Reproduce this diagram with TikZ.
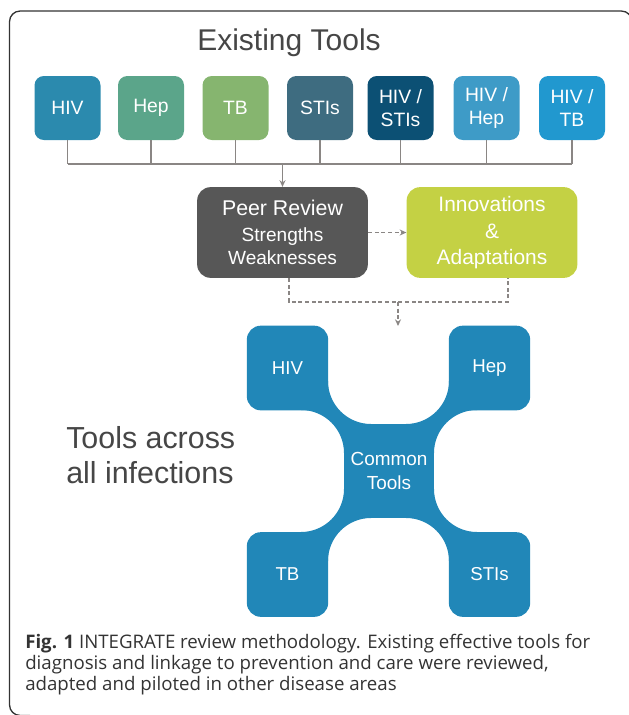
\documentclass[tikz,border=0pt]{standalone}
\usepackage{fontspec}
\setmainfont{Liberation Sans}
\newfontfamily\capfont{Open Sans}
\usetikzlibrary{arrows.meta}
\definecolor{cHIV}{HTML}{2B8AAE}
\definecolor{cHep}{HTML}{5BA58A}
\definecolor{cTB}{HTML}{86B56F}
\definecolor{cSTI}{HTML}{3E6C80}
\definecolor{cHS}{HTML}{0C5074}
\definecolor{cHH}{HTML}{3E9BC7}
\definecolor{cHT}{HTML}{2198CF}
\definecolor{cPeer}{HTML}{575757}
\definecolor{cInno}{HTML}{C4D144}
\definecolor{cCross}{HTML}{2187B8}
\definecolor{cText}{HTML}{464646}
\definecolor{cLine}{HTML}{8A8684}
\definecolor{cCap}{HTML}{333333}
\tikzset{
  topbox/.style={rounded corners=7pt, minimum width=49.5pt, minimum height=48pt, text=white, align=center, font=\fontsize{14.5}{17}\selectfont, inner sep=0pt},
  bigbox/.style={rounded corners=10pt, minimum width=128pt, minimum height=68pt, text=white, align=center, inner sep=0pt},
  armbox/.style={fill=cCross, rounded corners=10.5pt, minimum width=61pt, minimum height=63.5pt, text=white, font=\fontsize{14}{16}\selectfont, inner sep=0pt},
  conn/.style={draw=cLine, line width=1.1pt},
  dconn/.style={draw=cLine, line width=1.1pt, dash pattern=on 3pt off 2pt},
  tip/.style={-{Stealth[length=5pt,width=4.5pt]}}
}
\begin{document}
\begin{tikzpicture}[x=0.75pt,y=-0.75pt]
\useasboundingbox (0,0) rectangle (629,715);
% frame
\draw[line width=1pt, black!80, rounded corners=8pt] (632,40) -- (632,11) -- (9.5,11) -- (9.5,715.5) -- (30,715.5);
% title
\node[text=cText, font=\fontsize{22.5}{24}\selectfont] (title) at (289,43) {Existing Tools};
% top boxes
\node[topbox, fill=cHIV] (b1) at (67.5,108) {HIV};
\node[topbox, fill=cHep] (b2) at (151,108) {Hep};
\node[topbox, fill=cTB] (b3) at (235.5,108) {TB};
\node[topbox, fill=cSTI] (b4) at (320,108) {STIs};
\node[topbox, fill=cHS] (b5) at (400.5,108) {HIV /\\STIs};
\node[topbox, fill=cHH] (b6) at (486.5,108) {HIV /\\Hep};
\node[topbox, fill=cHT] (b7) at (572,108) {HIV /\\TB};
\coordinate (bus) at (0,164);
\foreach \b in {b1,b2,b3,b4,b5,b6,b7} {\draw[conn] (\b.south) -- (\b.south |- bus);}
\draw[conn] (b1.south |- bus) -- (b7.south |- bus);
% middle boxes
\node[bigbox, fill=cPeer, font=\fontsize{14.3}{17.3}\selectfont] (peer) at (282.5,232.5) {\fontsize{16}{17.3}\selectfont Peer Review\\[2pt]Strengths\\Weaknesses};
\node[bigbox, fill=cInno, font=\fontsize{15.7}{19}\selectfont] (inno) at (492,232.5) {Innovations\\[1.5pt]\&\\Adaptations};
\draw[conn, tip] (peer.north |- bus) -- (peer.north);
\draw[dconn, tip] (peer.east) -- (inno.west);
\coordinate (dbus) at (0,302);
\coordinate (pdrop) at (289,0);
\coordinate (idrop) at (508,0);
\draw[dconn] (pdrop |- peer.south) -- (pdrop |- dbus) -- (idrop |- dbus) -- (idrop |- inno.south);
% cross shape: four necks with concave sides joining the arms to the centre
\fill[cCross] (301,410) -- (328,381) .. controls (328,404.7) and (347.3,424) .. (371,424)
  -- (344,453) .. controls (344,429.3) and (324.7,410) .. (301,410) -- cycle;
\fill[cCross] (449,381) .. controls (449,404.7) and (429.7,424) .. (406,424)
  -- (434,453) .. controls (434,429.3) and (453.3,410) .. (477,410) -- cycle;
\fill[cCross] (477,532) .. controls (453.3,532) and (434,512.7) .. (434,489)
  -- (406,518) .. controls (429.7,518) and (449,537.3) .. (449,561) -- cycle;
\fill[cCross] (328,561) .. controls (328,537.3) and (347.3,518) .. (371,518)
  -- (344,489) .. controls (344,512.7) and (324.7,532) .. (301,532) -- cycle;
\node[fill=cCross, minimum width=67.5pt, minimum height=70.5pt, text=white, align=center, font=\fontsize{14.2}{18}\selectfont, inner sep=0pt] (common) at (389,471) {Common\\Tools};
\node[armbox] (xhiv) at (287.5,368) {HIV};
\node[armbox] (xhep) at (489.5,368) {Hep};
\node[armbox] (xtb) at (287.5,574.5) {TB};
\node[armbox] (xsti) at (489.5,574.5) {STIs};
\coordinate (crosstop) at (398,326);
\draw[dconn, tip] (crosstop |- dbus) -- (crosstop);
% side label
\node[text=cText, anchor=west, align=left, font=\fontsize{22.8}{26.5}\selectfont, inner sep=0pt] (across) at (66,455) {Tools across\\all infections};
% caption
\node[anchor=north west, align=left, text=cCap, inner sep=0pt, font=\capfont\fontsize{14}{15.75}\selectfont] (cap) at (25,634)
{\textbf{Fig. 1} INTEGRATE review methodology. Existing effective tools for\\
diagnosis and linkage to prevention and care were reviewed,\\
adapted and piloted in other disease areas};
\end{tikzpicture}
\end{document}
